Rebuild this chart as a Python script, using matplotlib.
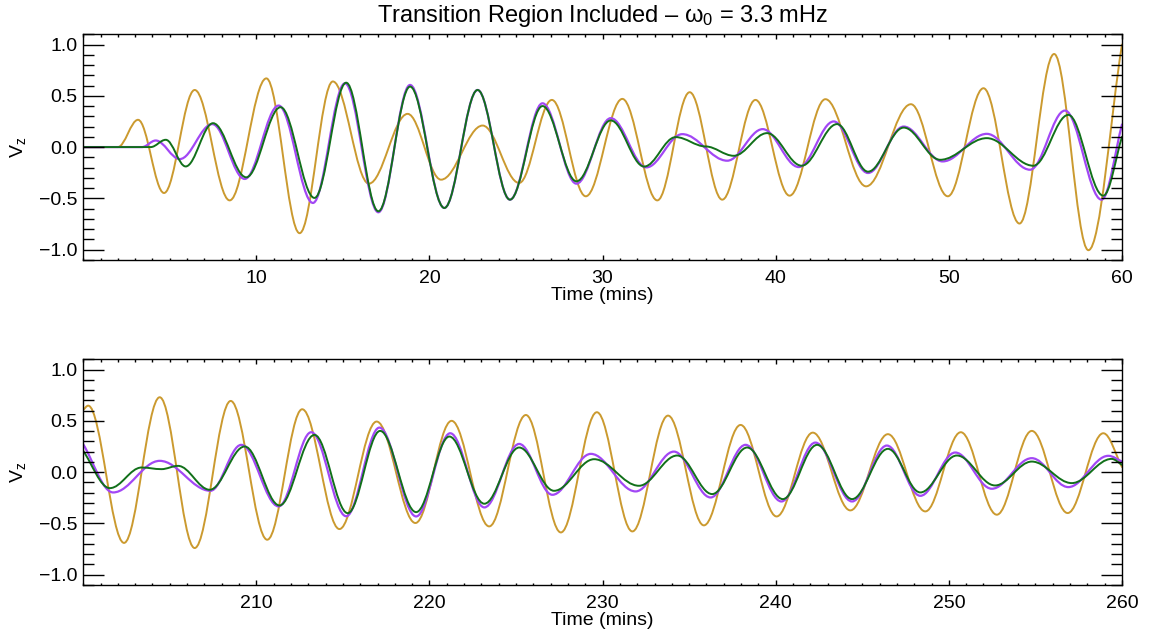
import matplotlib
matplotlib.use("Agg")
import matplotlib.pyplot as plt
from matplotlib.path import Path
from matplotlib.patches import PathPatch
from matplotlib.ticker import MultipleLocator, FixedLocator

plt.rcParams['font.family'] = ['Liberation Sans', 'DejaVu Sans']
plt.rcParams['mathtext.fontset'] = 'custom'
plt.rcParams['mathtext.rm'] = 'Liberation Sans'
plt.rcParams['mathtext.it'] = 'Liberation Sans'
plt.rcParams['mathtext.sf'] = 'Liberation Sans'

# turning points (time in mins, Vz)
top_gold_t = [0, 2.0, 3.17, 4.67, 6.44, 8.46, 10.58, 12.5, 14.42, 16.5, 18.74, 20.67, 23.07, 25.18,
              27.07, 29.03, 31.14, 33.16, 35.03, 36.91, 38.83, 40.8, 42.87, 45.22, 47.81, 49.94,
              52.0, 54.08, 56.08, 58.06, 60.0]
top_gold_v = [0, 0, 0.266, -0.448, 0.557, -0.52, 0.67, -0.84, 0.64, -0.357, 0.324, -0.318, 0.21, -0.35,
              0.46, -0.48, 0.47, -0.52, 0.535, -0.513, 0.46, -0.474, 0.467, -0.383, 0.418, -0.48,
              0.574, -0.746, 0.908, -1.006, 1.0]

top_purple_t = [0, 3.4, 4.19, 5.58, 7.46, 9.33, 11.29, 13.27, 15.12, 17.05, 18.88, 20.86, 22.78, 24.65,
                26.53, 28.49, 30.47, 32.53, 34.6, 37.2, 39.25, 41.33, 43.35, 45.33, 47.39, 49.64,
                52.19, 54.69, 56.71, 58.82, 60.0]
top_purple_v = [0, 0, 0.064, -0.117, 0.224, -0.311, 0.405, -0.545, 0.622, -0.636, 0.606, -0.594, 0.557, -0.513,
                0.427, -0.357, 0.282, -0.198, 0.126, -0.133, 0.175, -0.195, 0.25, -0.253, 0.2, -0.14,
                0.129, -0.221, 0.356, -0.513, 0.22]

top_green_t = [0, 3.9, 4.77, 5.92, 7.5, 9.42, 11.40, 13.36, 15.19, 17.05, 18.88, 20.86, 22.78, 24.65,
               26.53, 28.49, 30.47, 32.4, 34.22, 35.95, 37.58, 39.5, 41.5, 43.54, 45.33, 47.39, 49.5,
               52.19, 54.88, 56.9, 58.92, 60.0]
top_green_v = [0, 0, 0.071, -0.189, 0.233, -0.295, 0.389, -0.496, 0.628, -0.626, 0.59, -0.594, 0.557, -0.513,
               0.40, -0.334, 0.26, -0.19, 0.097, 0.006, -0.085, 0.136, -0.182, 0.224, -0.24, 0.19, -0.124,
               0.087, -0.182, 0.314, -0.474, 0.1]

bot_gold_t = [200, 200.29, 202.36, 204.42, 206.44, 208.52, 210.63, 212.65, 214.8, 216.95, 219.19, 221.28,
              223.45, 225.57, 227.59, 229.67, 231.72, 233.78, 235.85, 237.97, 240.05, 242.14, 244.31,
              246.48, 248.64, 250.69, 252.77, 254.79, 256.86, 258.92, 260]
bot_gold_v = [0.606, 0.648, -0.69, 0.73, -0.74, 0.694, -0.659, 0.613, -0.555, 0.493, -0.496, 0.5,
              -0.529, 0.557, -0.588, 0.584, -0.578, 0.551, -0.519, 0.46, -0.432, 0.385, -0.373,
              0.37, -0.383, 0.389, -0.415, 0.402, -0.399, 0.379, 0.05]

bot_purple_t = [200, 201.73, 204.42, 207.35, 209.13, 211.29, 213.17, 215.19, 217.11, 219.23, 221.2, 223.17,
                225.18, 227.1, 229.32, 231.91, 234.12, 236.24, 238.26, 240.33, 242.29, 244.41, 246.42,
                248.35, 250.37, 252.48, 254.79, 256.9, 259.21, 260]
bot_purple_v = [0.272, -0.198, 0.11, -0.182, 0.266, -0.334, 0.389, -0.43, 0.434, -0.432, 0.379, -0.344,
                0.275, -0.221, 0.178, -0.188, 0.2, -0.247, 0.266, -0.286, 0.288, -0.286, 0.259,
                -0.231, 0.191, -0.162, 0.136, -0.146, 0.159, 0.103]

bot_green_t = [200, 201.54, 203.37, 204.52, 205.48, 207.31, 209.33, 211.34, 213.36, 215.28, 217.15, 219.23,
               221.15, 223.17, 225.18, 227.2, 229.51, 232.1, 234.31, 236.33, 238.35, 240.41, 242.39,
               244.41, 246.48, 248.35, 250.46, 252.67, 254.79, 257.1, 259.4, 260]
bot_green_v = [0.207, -0.156, 0.045, 0.029, 0.061, -0.172, 0.25, -0.325, 0.363, -0.4, 0.402, -0.39,
               0.347, -0.308, 0.24, -0.182, 0.126, -0.133, 0.162, -0.214, 0.24, -0.263, 0.266,
               -0.263, 0.227, -0.198, 0.162, -0.13, 0.103, -0.107, 0.129, 0.071]

top_xticks = [10, 20, 30, 40, 50, 60]
bot_xticks = [210, 220, 230, 240, 250, 260]
yticks = [-1.0, -0.5, 0.0, 0.5, 1.0]

GOLD = '#CB9A2F'
PURPLE = '#A247F5'
GREEN = '#11701A'


def smooth_path(t, v, k=0.36):
    # cubic bezier through turning points, flat tangent at each interior point
    verts = [(t[0], v[0])]
    codes = [Path.MOVETO]
    n = len(t)
    for i in range(n - 1):
        dt = t[i + 1] - t[i]
        if i == 0:
            c1 = (t[i] + dt / 3, v[i] + (v[i + 1] - v[i]) / 3)
        else:
            c1 = (t[i] + k * dt, v[i])
        if i == n - 2:
            c2 = (t[i + 1] - dt / 3, v[i + 1] - (v[i + 1] - v[i]) / 3)
        else:
            c2 = (t[i + 1] - k * dt, v[i + 1])
        verts += [c1, c2, (t[i + 1], v[i + 1])]
        codes += [Path.CURVE4] * 3
    return Path(verts, codes)


fig = plt.figure(figsize=(11.49, 6.40), dpi=100)
ax1 = fig.add_axes([0.0724, 0.594, 0.9041, 0.3524])
ax2 = fig.add_axes([0.0724, 0.086, 0.9041, 0.3526])

panels = [
    (ax1, (0, 60), top_xticks,
     [(top_gold_t, top_gold_v, GOLD, 1.4), (top_purple_t, top_purple_v, PURPLE, 1.6),
      (top_green_t, top_green_v, GREEN, 1.4)]),
    (ax2, (200, 260), bot_xticks,
     [(bot_gold_t, bot_gold_v, GOLD, 1.4), (bot_purple_t, bot_purple_v, PURPLE, 1.6),
      (bot_green_t, bot_green_v, GREEN, 1.4)]),
]

for ax, xlim, xt, series in panels:
    for t, v, col, lw in series:
        ax.add_patch(PathPatch(smooth_path(t, v), fill=False, edgecolor=col, lw=lw,
                               joinstyle='round', capstyle='round'))
    ax.set_xlim(*xlim)
    ax.set_ylim(-1.1, 1.1)
    ax.xaxis.set_major_locator(FixedLocator(xt))
    ax.xaxis.set_minor_locator(MultipleLocator(1))
    ax.yaxis.set_major_locator(FixedLocator(yticks))
    ax.yaxis.set_minor_locator(MultipleLocator(0.1))
    ax.set_yticklabels(['\u22121.0', '\u22120.5', '0.0', '0.5', '1.0'])
    ax.tick_params(which='both', direction='in', top=True, right=True, width=1.0, labelsize=14,
                   color='black')
    ax.tick_params(axis='y', which='major', length=15, pad=4)
    ax.tick_params(axis='y', which='minor', length=7.7)
    ax.tick_params(axis='x', which='major', length=3.6, pad=7)
    ax.tick_params(axis='x', which='minor', length=1.8)
    for s in ax.spines.values():
        s.set_linewidth(1.0)
    ax.set_xlabel('Time (mins)', fontsize=14, labelpad=0)
    ax.set_ylabel(r'V$_\mathrm{z}$', fontsize=14, labelpad=8)

ax1.set_title('Transition Region Included \u2013 $\\omega_0$ = 3.3 mHz', fontsize=17, pad=9)

fig.savefig('out.png', dpi=100)
